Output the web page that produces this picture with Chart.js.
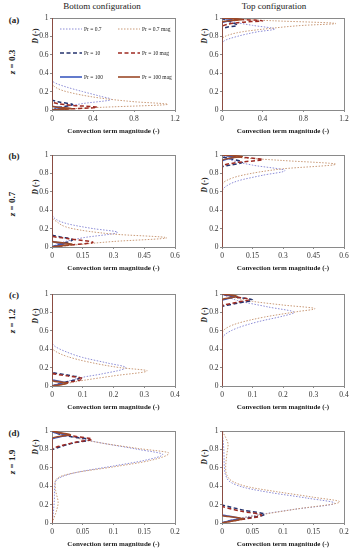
<!DOCTYPE html>
<html>
<head>
<meta charset="utf-8">
<script src="https://cdn.jsdelivr.net/npm/chart.js@4.4.0/dist/chart.umd.min.js"></script>
<style>
body { margin: 0; background: #fff; }
#wrap { position: relative; width: 352px; height: 550px; overflow: hidden; font-family: "Liberation Serif", serif; color: #222; }
canvas { position: absolute; }
.t { position: absolute; white-space: nowrap; transform: translate(-50%, -50%); }
.rot { position: absolute; white-space: nowrap; transform: translate(-50%, -50%) rotate(-90deg); }
</style>
</head>
<body>
<div id="wrap"></div>
<script>
// series / panel labels
var seriesLabels = ['Pr = 0.7', 'Pr = 0.7 mag', 'Pr = 10', 'Pr = 10 mag', 'Pr = 100', 'Pr = 100 mag'];
var rowLabels = ['(a)', '(b)', '(c)', '(d)'];
var zValues = ['0.3', '0.7', '1.2', '1.9'];
var colTitles = ['Bottom configuration', 'Top configuration'];
var xMax = [1.2, 0.6, 0.4, 0.2];
var xTicks = [[0, 0.4, 0.8, 1.2], [0, 0.15, 0.3, 0.45, 0.6], [0, 0.1, 0.2, 0.3, 0.4], [0, 0.05, 0.1, 0.15, 0.2]];
var yTicks = [0, 0.2, 0.4, 0.6, 0.8, 1];

// profiles as [magnitude, D] pairs, sorted by D
// (a) z = 0.3, bottom
var aB_p07 = [[0, 0], [0.1, 0.03], [0.3, 0.07], [0.58, 0.115], [0.47, 0.15], [0.3, 0.2], [0.14, 0.25], [0.02, 0.3], [0, 0.34], [0, 1]];
var aB_p07m = [[0, 0], [0.1, 0.008], [0.5, 0.03], [1.13, 0.062], [0.8, 0.09], [0.47, 0.13], [0.14, 0.2], [0.03, 0.25], [0, 0.3], [0, 1]];
var aB_p10 = [[0, 0], [0.08, 0.03], [0.2, 0.06], [0.08, 0.085], [0, 0.11], [0, 1]];
var aB_p10m = [[0, 0], [0.15, 0.01], [0.44, 0.03], [0.2, 0.05], [0.05, 0.07], [0, 0.09], [0, 1]];
var aB_p100 = [[0, 0], [0.06, 0.01], [0.12, 0.02], [0.03, 0.035], [0, 0.05], [0, 1]];
var aB_p100m = [[0, 0], [0.1, 0.008], [0.2, 0.015], [0.05, 0.03], [0, 0.04], [0, 1]];
// (a) z = 0.3, top
var aT_p07 = [[0, 0], [0, 0.7], [0.02, 0.75], [0.15, 0.8], [0.35, 0.85], [0.52, 0.88], [0.3, 0.92], [0.1, 0.96], [0, 1]];
var aT_p07m = [[0, 0], [0, 0.76], [0.03, 0.8], [0.2, 0.85], [0.5, 0.89], [0.8, 0.92], [1.12, 0.94], [0.5, 0.97], [0.1, 0.99], [0, 1]];
var aT_p10 = [[0, 0], [0, 0.88], [0.05, 0.9], [0.15, 0.92], [0.1, 0.95], [0.03, 0.98], [0, 1]];
var aT_p10m = [[0, 0], [0, 0.9], [0.05, 0.93], [0.2, 0.955], [0.4, 0.97], [0.15, 0.985], [0, 1]];
var aT_p100 = [[0, 0], [0, 0.95], [0.1, 0.98], [0, 1]];
var aT_p100m = [[0, 0], [0, 0.96], [0.2, 0.985], [0, 1]];
// (b) z = 0.7, bottom
var bB_p07 = [[0, 0], [0.05, 0.05], [0.15, 0.1], [0.32, 0.16], [0.2, 0.2], [0.08, 0.25], [0.02, 0.3], [0, 0.38], [0, 1]];
var bB_p07m = [[0, 0], [0.1, 0.02], [0.3, 0.06], [0.56, 0.1], [0.3, 0.14], [0.1, 0.2], [0.02, 0.28], [0, 0.33], [0, 1]];
var bB_p10 = [[0, 0], [0.04, 0.03], [0.1, 0.08], [0.04, 0.11], [0, 0.13], [0, 1]];
var bB_p10m = [[0, 0], [0.08, 0.02], [0.2, 0.05], [0.08, 0.09], [0, 0.12], [0, 1]];
var bB_p100 = [[0, 0], [0.03, 0.02], [0.06, 0.035], [0.02, 0.05], [0, 0.07], [0, 1]];
var bB_p100m = [[0, 0], [0.05, 0.015], [0.1, 0.03], [0.03, 0.05], [0, 0.06], [0, 1]];
// (b) z = 0.7, top
var bT_p07 = [[0, 0], [0, 0.6], [0.02, 0.66], [0.08, 0.72], [0.2, 0.78], [0.31, 0.83], [0.15, 0.89], [0.05, 0.94], [0, 1]];
var bT_p07m = [[0, 0], [0, 0.67], [0.02, 0.72], [0.1, 0.78], [0.3, 0.85], [0.56, 0.9], [0.3, 0.94], [0.1, 0.97], [0, 1]];
var bT_p10 = [[0, 0], [0, 0.87], [0.04, 0.89], [0.1, 0.92], [0.04, 0.96], [0, 0.98], [0, 1]];
var bT_p10m = [[0, 0], [0, 0.88], [0.08, 0.92], [0.2, 0.95], [0.08, 0.98], [0, 1]];
var bT_p100 = [[0, 0], [0, 0.93], [0.03, 0.96], [0.06, 0.975], [0, 1]];
var bT_p100m = [[0, 0], [0, 0.94], [0.05, 0.97], [0.1, 0.985], [0, 1]];
// (c) z = 1.2, bottom
var cB_p07 = [[0, 0], [0.03, 0.03], [0.1, 0.095], [0.16, 0.13], [0.24, 0.2], [0.18, 0.25], [0.1, 0.31], [0.04, 0.38], [0.01, 0.43], [0, 0.47], [0, 1]];
var cB_p07m = [[0, 0], [0.02, 0.01], [0.1, 0.06], [0.2, 0.11], [0.31, 0.165], [0.22, 0.2], [0.12, 0.26], [0.05, 0.32], [0.01, 0.38], [0, 0.42], [0, 1]];
var cB_p10 = [[0, 0], [0.03, 0.03], [0.09, 0.09], [0.05, 0.12], [0, 0.15], [0, 1]];
var cB_p10m = [[0, 0], [0.04, 0.03], [0.1, 0.08], [0.05, 0.11], [0, 0.14], [0, 1]];
var cB_p100 = [[0, 0], [0.02, 0.02], [0.04, 0.04], [0.01, 0.06], [0, 0.07], [0, 1]];
var cB_p100m = [[0, 0], [0.03, 0.015], [0.05, 0.03], [0.01, 0.05], [0, 0.06], [0, 1]];
// (c) z = 1.2, top
var cT_p07 = [[0, 0], [0, 0.5], [0.01, 0.56], [0.05, 0.63], [0.12, 0.7], [0.2, 0.76], [0.237, 0.8], [0.15, 0.86], [0.05, 0.93], [0, 1]];
var cT_p07m = [[0, 0], [0, 0.56], [0.01, 0.62], [0.05, 0.68], [0.14, 0.75], [0.25, 0.81], [0.305, 0.84], [0.2, 0.88], [0.1, 0.92], [0.03, 0.97], [0, 1]];
var cT_p10 = [[0, 0], [0, 0.86], [0.05, 0.9], [0.1, 0.935], [0.04, 0.97], [0, 1]];
var cT_p10m = [[0, 0], [0, 0.87], [0.05, 0.91], [0.09, 0.94], [0.03, 0.975], [0, 1]];
var cT_p100 = [[0, 0], [0, 0.93], [0.02, 0.95], [0.04, 0.97], [0, 1]];
var cT_p100m = [[0, 0], [0, 0.94], [0.03, 0.96], [0.05, 0.975], [0, 1]];
// (d) z = 1.9, bottom
var dB_p07 = [[0, 0], [0.002, 0.1], [0.004, 0.3], [0.005, 0.44], [0.015, 0.5], [0.04, 0.55], [0.1, 0.62], [0.15, 0.68], [0.18, 0.745], [0.14, 0.8], [0.08, 0.87], [0.03, 0.94], [0, 1]];
var dB_p07m = [[0, 0], [0.003, 0.05], [0.008, 0.15], [0.01, 0.22], [0.006, 0.35], [0.005, 0.43], [0.012, 0.5], [0.04, 0.55], [0.1, 0.61], [0.16, 0.68], [0.19, 0.76], [0.14, 0.81], [0.08, 0.87], [0.03, 0.94], [0, 1]];
var dB_p10 = [[0, 0], [0, 0.79], [0.01, 0.82], [0.035, 0.87], [0.062, 0.905], [0.03, 0.94], [0.01, 0.97], [0, 1]];
var dB_p10m = [[0, 0], [0, 0.8], [0.015, 0.84], [0.04, 0.88], [0.065, 0.91], [0.03, 0.95], [0, 1]];
var dB_p100 = [[0, 0], [0, 0.91], [0.015, 0.94], [0.025, 0.955], [0.005, 0.98], [0, 1]];
var dB_p100m = [[0, 0], [0, 0.92], [0.02, 0.95], [0.03, 0.96], [0.008, 0.985], [0, 1]];
// (d) z = 1.9, top
var dT_p07 = [[0, 0], [0.02, 0.04], [0.06, 0.09], [0.12, 0.15], [0.185, 0.215], [0.14, 0.27], [0.08, 0.33], [0.04, 0.38], [0.015, 0.44], [0.006, 0.52], [0.004, 0.6], [0.003, 0.8], [0, 1]];
var dT_p07m = [[0, 0], [0.02, 0.035], [0.06, 0.085], [0.12, 0.15], [0.193, 0.23], [0.15, 0.28], [0.09, 0.34], [0.045, 0.39], [0.018, 0.45], [0.008, 0.52], [0.006, 0.6], [0.008, 0.75], [0.01, 0.85], [0.006, 0.93], [0, 1]];
var dT_p10 = [[0, 0], [0.02, 0.03], [0.07, 0.095], [0.035, 0.14], [0.01, 0.18], [0, 0.2], [0, 1]];
var dT_p10m = [[0, 0], [0.02, 0.025], [0.065, 0.085], [0.03, 0.13], [0, 0.19], [0, 1]];
var dT_p100 = [[0, 0], [0.01, 0.02], [0.03, 0.05], [0.015, 0.07], [0, 0.09], [0, 1]];
var dT_p100m = [[0, 0], [0.015, 0.02], [0.035, 0.045], [0.01, 0.07], [0, 0.08], [0, 1]];

var panels = [
    [[aB_p07, aB_p07m, aB_p10, aB_p10m, aB_p100, aB_p100m], [aT_p07, aT_p07m, aT_p10, aT_p10m, aT_p100, aT_p100m]],
    [[bB_p07, bB_p07m, bB_p10, bB_p10m, bB_p100, bB_p100m], [bT_p07, bT_p07m, bT_p10, bT_p10m, bT_p100, bT_p100m]],
    [[cB_p07, cB_p07m, cB_p10, cB_p10m, cB_p100, cB_p100m], [cT_p07, cT_p07m, cT_p10, cT_p10m, cT_p100, cT_p100m]],
    [[dB_p07, dB_p07m, dB_p10, dB_p10m, dB_p100, dB_p100m], [dT_p07, dT_p07m, dT_p10, dT_p10m, dT_p100, dT_p100m]]
];

// styles
var lineColors = ['#8C8CD6', '#C99A78', '#25336E', '#9E2A22', '#3D5BC0', '#9C4A28'];
var lineDash = [[1.5, 1.5], [1.5, 1.5], [4, 2.5], [4, 2.5], [], []];
var lineWidths = [1, 1, 1.5, 1.5, 1.6, 1.6];

// layout
var rowTop = [18, 155, 294, 431];
var plotH = 92;
var colLeft = [52, 222];
var colRight = [175, 344];
var yAxisW = 32;
var rightPad = [5, 8];
var dTitleOff = [[18, 32, 22, 16], [18, 30, 21, 26]];
var dTitleX = [35, 204];

var wrap = document.getElementById('wrap');

function addText(html, cls, x, y, style) {
    var d = document.createElement('div');
    d.className = cls;
    d.innerHTML = html;
    d.style.left = x + 'px';
    d.style.top = y + 'px';
    d.style.cssText += style;
    wrap.appendChild(d);
}

addText(colTitles[0], 't', 102, 6, 'font-size:9px;');
addText(colTitles[1], 't', 274, 6, 'font-size:9px;');

var zPos = [62, 204, 321, 462];
var tagY = [20, 156, 295, 433];
for (var r = 0; r < 4; r++) {
    addText(rowLabels[r], 't', 14, tagY[r], 'font-size:9px;font-weight:bold;');
    addText('<i>z</i> = ' + zValues[r], 'rot', 12, zPos[r], 'font-size:9px;font-weight:bold;');
    for (var c = 0; c < 2; c++) {
        addText('<i>D</i> (-)', 'rot', dTitleX[c], rowTop[r] + dTitleOff[c][r], 'font-size:7.5px;font-weight:bold;');
    }
}

var boxPlugin = {
    id: 'box',
    beforeDatasetsDraw: function (chart) {
        var a = chart.chartArea;
        var ctx = chart.ctx;
        ctx.save();
        ctx.strokeStyle = '#8a8a8a';
        ctx.lineWidth = 1;
        ctx.strokeRect(Math.round(a.left) + 0.5, Math.round(a.top) + 0.5, Math.round(a.right - a.left), Math.round(a.bottom - a.top));
        ctx.restore();
    }
};

var legendPlugin = {
    id: 'insideLegend',
    afterDatasetsDraw: function (chart) {
        var a = chart.chartArea;
        var ctx = chart.ctx;
        ctx.save();
        ctx.font = '5.5px "Liberation Serif"';
        ctx.fillStyle = '#222';
        ctx.textBaseline = 'middle';
        chart.data.datasets.forEach(function (ds, i) {
            var col = i % 2, row = Math.floor(i / 2);
            var x0 = a.left + 8 + col * 58;
            var y0 = a.top + 11 + row * 24;
            ctx.strokeStyle = ds.borderColor;
            ctx.lineWidth = ds.borderWidth;
            ctx.setLineDash(ds.borderDash);
            ctx.beginPath();
            ctx.moveTo(x0, y0);
            ctx.lineTo(x0 + 22, y0);
            ctx.stroke();
            ctx.setLineDash([]);
            ctx.fillText(ds.label, x0 + 24, y0 + 0.5);
        });
        ctx.restore();
    }
};

function fixY(s) {
    s.width = yAxisW;
    s.paddingTop = s.paddingBottom = s.paddingLeft = s.paddingRight = 0;
}
function fixX(s) {
    s.height = 26;
    s.paddingTop = s.paddingBottom = s.paddingLeft = s.paddingRight = 0;
}
function fmt(v) {
    return String(parseFloat(Number(v).toFixed(3)));
}

for (var r = 0; r < 4; r++) {
    for (var c = 0; c < 2; c++) {
        var cv = document.createElement('canvas');
        var left = colLeft[c] - yAxisW;
        var w = colRight[c] + rightPad[c] - left;
        var h = 8 + plotH + 26;
        cv.width = w;
        cv.height = h;
        cv.style.left = left + 'px';
        cv.style.top = (rowTop[r] - 8) + 'px';
        cv.style.width = w + 'px';
        cv.style.height = h + 'px';
        wrap.appendChild(cv);

        var datasets = panels[r][c].map(function (pts, i) {
            return {
                label: seriesLabels[i],
                data: pts.map(function (p) { return { x: p[0], y: p[1] }; }),
                borderColor: lineColors[i],
                borderWidth: lineWidths[i],
                borderDash: lineDash[i],
                pointRadius: 0,
                fill: false,
                order: 5 - i,
                cubicInterpolationMode: 'monotone'
            };
        });

        var tickFont = { family: 'Liberation Serif', size: 7.5 };
        var xt = xTicks[r];
        new Chart(cv.getContext('2d'), {
            type: 'line',
            data: { datasets: datasets },
            options: {
                indexAxis: 'y',
                responsive: false,
                animation: false,
                devicePixelRatio: 1,
                layout: { padding: { left: 0, right: rightPad[c], top: 8, bottom: 0 } },
                plugins: { legend: { display: false }, tooltip: { enabled: false } },
                scales: {
                    x: {
                        type: 'linear',
                        min: 0,
                        max: xMax[r],
                        afterFit: fixX,
                        afterBuildTicks: (function (vals) {
                            return function (s) { s.ticks = vals.map(function (v) { return { value: v }; }); };
                        })(xt),
                        border: { display: false },
                        grid: { drawOnChartArea: false, tickLength: 2, color: '#8a8a8a' },
                        ticks: { padding: 3, color: '#333', font: tickFont, maxRotation: 0, autoSkip: false, callback: fmt },
                        title: { display: true, text: 'Convection term magnitude (-)', color: '#222', font: { family: 'Liberation Serif', size: 7, weight: 'bold' }, padding: { top: 0, bottom: 1 } }
                    },
                    y: {
                        type: 'linear',
                        min: 0,
                        max: 1,
                        afterFit: fixY,
                        afterBuildTicks: function (s) { s.ticks = yTicks.map(function (v) { return { value: v }; }); },
                        border: { display: false },
                        grid: { drawOnChartArea: false, tickLength: 2, color: '#8a8a8a' },
                        ticks: { padding: 1.5, color: '#333', font: tickFont, autoSkip: false, callback: fmt }
                    }
                }
            },
            plugins: (r === 0 && c === 0) ? [boxPlugin, legendPlugin] : [boxPlugin]
        });
    }
}
</script>
</body>
</html>
